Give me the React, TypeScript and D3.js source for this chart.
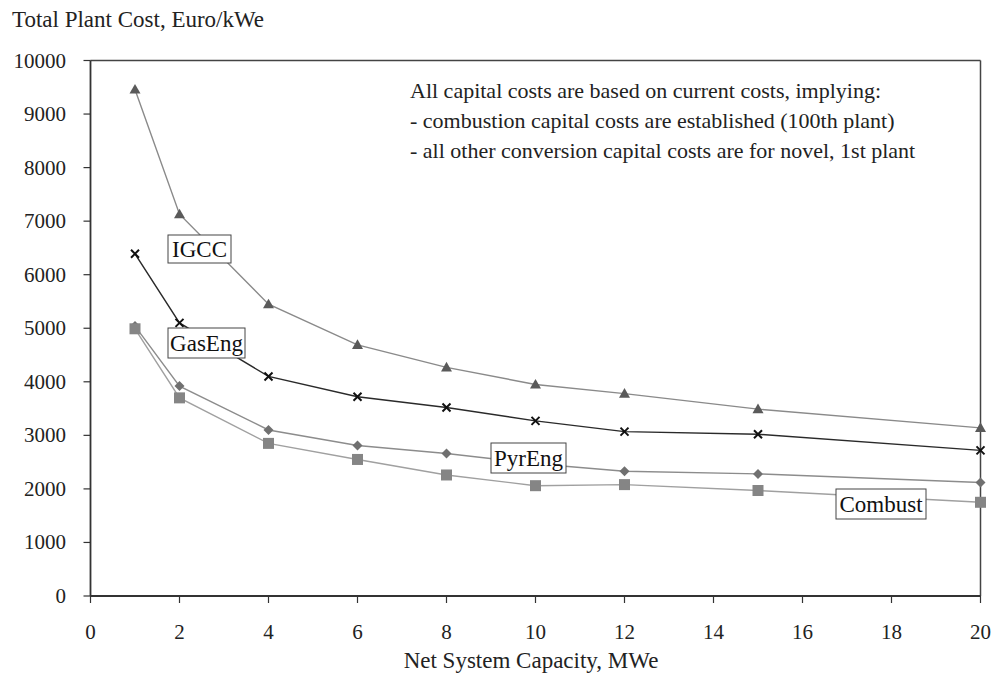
import React from "react";
import * as d3 from "d3";

const xValues = [1, 2, 4, 6, 8, 10, 12, 15, 20];
const igcc = [9460, 7130, 5450, 4690, 4270, 3950, 3780, 3490, 3140];
const gasEng = [6390, 5100, 4100, 3720, 3520, 3270, 3070, 3020, 2720];
const pyrEng = [5040, 3920, 3100, 2810, 2660, 2470, 2330, 2280, 2120];
const combust = [4990, 3700, 2850, 2550, 2260, 2060, 2080, 1970, 1750];
const xTicks = [0, 2, 4, 6, 8, 10, 12, 14, 16, 18, 20];
const yTicks = [0, 1000, 2000, 3000, 4000, 5000, 6000, 7000, 8000, 9000, 10000];
const noteLines = [
  "All capital costs are based on current costs, implying:",
  "- combustion capital costs are established (100th plant)",
  "- all other conversion capital costs are for novel, 1st plant",
];

const W = 994, H = 674;
const m = { left: 90.5, right: 980.5, top: 60.5, bottom: 596 };
const FONT = "'Liberation Serif', 'DejaVu Serif', serif";

export default function App() {
  const x = d3.scaleLinear().domain([0, 20]).range([m.left, m.right]);
  const y = d3.scaleLinear().domain([0, 10000]).range([m.bottom, m.top]);
  const line = (vals: number[]) =>
    d3.line<number>().x((_, i) => x(xValues[i])).y((v) => y(v))(vals) || "";

  const series = [
    { name: "IGCC", vals: igcc, line: "#8a8a8a", mark: "#5a5a5a", shape: "tri" },
    { name: "GasEng", vals: gasEng, line: "#2a2a2a", mark: "#111", shape: "x" },
    { name: "PyrEng", vals: pyrEng, line: "#8c8c8c", mark: "#707070", shape: "dia" },
    { name: "Combust", vals: combust, line: "#a0a0a0", mark: "#858585", shape: "sq" },
  ];

  const marker = (shape: string, cx: number, cy: number, color: string, key: string) => {
    if (shape === "tri") {
      const s = 5.5;
      return <path key={key} d={`M${cx},${cy - s}L${cx + s},${cy + s * 0.75}L${cx - s},${cy + s * 0.75}Z`} fill={color} />;
    }
    if (shape === "x") {
      const s = 4;
      return <path key={key} d={`M${cx - s},${cy - s}L${cx + s},${cy + s}M${cx - s},${cy + s}L${cx + s},${cy - s}`} stroke={color} strokeWidth={2} />;
    }
    if (shape === "dia") {
      const s = 5;
      return <path key={key} d={`M${cx},${cy - s}L${cx + s},${cy}L${cx},${cy + s}L${cx - s},${cy}Z`} fill={color} />;
    }
    const s = 5.5;
    return <rect key={key} x={cx - s} y={cy - s} width={2 * s} height={2 * s} fill={color} />;
  };

  const labels = [
    { text: "IGCC", x: 168, y: 235, w: 63, h: 28 },
    { text: "GasEng", x: 168, y: 328, w: 77, h: 30 },
    { text: "PyrEng", x: 491, y: 443, w: 75, h: 30 },
    { text: "Combust", x: 836, y: 489, w: 90, h: 30 },
  ];

  return (
    <svg width={W} height={H} style={{ position: "absolute", left: 0, top: 0, background: "#fff" }} fontFamily={FONT}>
      <rect width={W} height={H} fill="#fff" />
      <line x1={m.left} x2={m.right} y1={m.top} y2={m.top} stroke="#444" strokeWidth={1.5} />
      <line x1={m.right} x2={m.right} y1={m.top} y2={m.bottom} stroke="#444" strokeWidth={1.5} />
      <line x1={m.left} x2={m.left} y1={m.top} y2={m.bottom} stroke="#333" strokeWidth={1.8} />
      <line x1={m.left} x2={m.right} y1={m.bottom} y2={m.bottom} stroke="#333" strokeWidth={2} />
      {yTicks.map((t) => (
        <g key={"y" + t}>
          <line x1={m.left - 7} x2={m.left} y1={y(t)} y2={y(t)} stroke="#333" strokeWidth={1.2} />
          <text x={66} y={y(t) + 7} textAnchor="end" fontSize={21} fill="#222">{t}</text>
        </g>
      ))}
      {xTicks.map((t) => (
        <g key={"x" + t}>
          <line x1={x(t)} x2={x(t)} y1={m.bottom} y2={m.bottom + 7} stroke="#333" strokeWidth={1.2} />
          <text x={x(t)} y={639} textAnchor="middle" fontSize={21} fill="#222">{t}</text>
        </g>
      ))}
      <text x={12} y={27} fontSize={23} fill="#222">Total Plant Cost, Euro/kWe</text>
      <text x={531} y={668} textAnchor="middle" fontSize={23} fill="#222">Net System Capacity, MWe</text>
      {series.map((s) => (
        <path key={s.name} d={line(s.vals)} fill="none" stroke={s.line} strokeWidth={1.4} />
      ))}
      {series.map((s) =>
        s.vals.map((v, i) => marker(s.shape, x(xValues[i]), y(v), s.mark, s.name + i))
      )}
      {labels.map((l) => (
        <g key={l.text}>
          <rect x={l.x} y={l.y} width={l.w} height={l.h} fill="#fff" stroke="#444" strokeWidth={1} />
          <text x={l.x + l.w / 2} y={l.y + l.h / 2 + 8} textAnchor="middle" fontSize={23} fill="#111">{l.text}</text>
        </g>
      ))}
      {noteLines.map((t, i) => (
        <text key={i} x={410} y={98 + i * 30} fontSize={22} fill="#222">{t}</text>
      ))}
    </svg>
  );
}
